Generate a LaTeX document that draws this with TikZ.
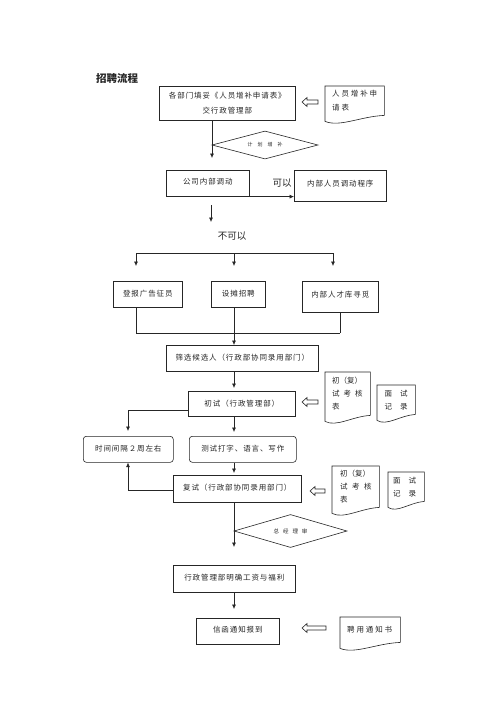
\documentclass[tikz,border=0pt]{standalone}
\usepackage{fontspec}
\newfontfamily\cjk{Noto Sans CJK SC}
\newfontfamily\cjks[LetterSpace=12]{Noto Sans CJK SC}
\newfontfamily\cjkw[LetterSpace=25]{Noto Sans CJK SC}
\usetikzlibrary{arrows.meta,calc,shapes.geometric}
\tikzset{
  ln/.style={draw=black!85, line width=0.6pt},
  arr/.style={ln, -{Latex[length=4.5pt,width=4pt]}},
  box/.style={ln, rectangle, inner sep=0pt, anchor=north west, font=\cjks\fontsize{7.5}{9}\selectfont},
  rbox/.style={box, rounded corners=3pt},
  docnode/.style={inner xsep=7pt, inner ysep=0pt, anchor=north west, align=left, font=\cjk\fontsize{7.5}{13}\selectfont},
  dia/.style={ln, diamond, inner sep=0pt},
  lbl/.style={font=\cjk\fontsize{9.5}{11}\selectfont},
  pics/harrow/.style={code={\draw[ln] (0,0) -- (5,-4.5) -- (5,-2) -- (#1,-2) -- (#1,2) -- (5,2) -- (5,4.5) -- cycle;}}
}
\newcommand\docoutline[1]{\draw[ln] (#1.north west) -- (#1.north east) -- (#1.south east)
  .. controls ($(#1.south east)!0.4!(#1.south west)+(0,1)$) and ($(#1.south east)!0.75!(#1.south west)+(0,12)$) ..
  ($(#1.south west)+(0,6)$) -- cycle;}
\begin{document}
\begin{tikzpicture}[x=1pt,y=-1pt, every node/.append style={text=black!85}]
\fill[white] (0,0) rectangle (500,707);
\useasboundingbox (0,0) rectangle (500,707);

\node[font=\cjk\bfseries\fontsize{10.5}{12}\selectfont] (title) at (117,78) {招聘流程};

% top
\node[box, minimum width=136pt, minimum height=34pt, align=center] (b1) at (159,86) {各部门填妥《人员增补申请表》\\[6pt]交行政管理部};
\node[docnode, text width=45pt, minimum height=29pt, font=\cjkw\fontsize{7.5}{14}\selectfont] (d0) at (325,86) {人员增补申\\请表};
\docoutline{d0}
\pic (ha1) at (302,102) {harrow=16};

\node[dia, minimum width=106pt, minimum height=28pt, aspect=3.8, font=\cjk\fontsize{5}{6}\selectfont] (dia1) at (265,145) {计\kern5pt 划\kern5pt 增\kern5pt 补};
\coordinate (p1) at (212,158);
\draw[arr] (b1.south -| p1) -- (p1);

\node[box, minimum width=83pt, minimum height=26pt] (b2) at (166,170) {\raisebox{3pt}{公司内部调动}};
\node[box, minimum width=92pt, minimum height=31pt] (b3) at (294,170) {\raisebox{5pt}{内部人员调动程序}};
\draw[arr] (b2.south east) -- (b2.south east -| b3.west);
\node[lbl] (lk) at (282,183) {可以};

\coordinate (p2a) at (211,205);
\coordinate (p2b) at (211,222);
\draw[arr] (p2a) -- (p2b);
\node[lbl] (lnk) at (232,236) {不可以};

% branch
\coordinate (h1l) at (136,253);
\coordinate (h1m) at (234,253);
\coordinate (h1r) at (333,253);
\draw[ln] (h1l) -- (h1r);
\draw[arr] (h1l) -- ++(0,13);
\draw[arr] (h1m) -- ++(0,13);
\draw[arr] (h1r) -- ++(0,13);

\node[box, minimum width=69pt, minimum height=26pt] (c1) at (113,281) {\raisebox{2pt}{登报广告征员}};
\node[box, minimum width=54pt, minimum height=26pt] (c2) at (211,281) {\raisebox{2pt}{设摊招聘}};
\node[box, minimum width=76pt, minimum height=31pt] (c3) at (302,281) {\raisebox{4pt}{内部人才库寻觅}};

\coordinate (h2l) at (136,333);
\coordinate (h2m) at (234,333);
\coordinate (h2r) at (340,333);
\draw[ln] (c1.south -| h2l) -- (h2l);
\draw[ln] (c2.south -| h2m) -- (h2m);
\draw[ln] (c3.south -| h2r) -- (h2r);
\draw[ln] (h2l) -- (h2r);

\node[box, minimum width=152pt, minimum height=26pt] (s1) at (166,345) {\raisebox{1.5pt}{筛选候选人（行政部协同录用部门）}};
\draw[arr] (h2m) -- (s1.north -| h2m);

% first interview
\node[box, minimum width=107pt, minimum height=25pt] (ch) at (188,391) {\raisebox{1pt}{初试（行政管理部）}};
\draw[arr] (s1.south -| h2m) -- ($(ch.north -| h2m)+(0,-3)$);
\pic (ha2) at (302,402) {harrow=16};
\node[docnode, text width=31pt, minimum height=43pt] (d1) at (325,372) {初（复）\\试\kern4pt 考\kern4pt 核\\表};
\docoutline{d1}
\node[docnode, inner xsep=7.5pt, text width=23pt, minimum height=29pt] (d2) at (377,385) {面\kern8pt 试\\记\kern8pt 录};
\docoutline{d2}

\node[rbox, minimum width=90pt, minimum height=26pt] (t1) at (83,436) {\raisebox{2pt}{时间间隔２周左右}};
\node[rbox, minimum width=107pt, minimum height=26pt] (t2) at (189,436) {\raisebox{2pt}{测试打字、语言、写作}};
\coordinate (lx) at (128,410);
\draw[arr] (ch.west |- lx) -- (lx) -- ($(t1.north -| lx)+(0,-5)$);
\draw[arr] (ch.south -| h2m) -- ($(t2.north -| h2m)+(0,-4)$);

% second interview
\node[box, minimum width=128pt, minimum height=27pt] (f1) at (173,475) {\raisebox{3pt}{复试（行政部协同录用部门）}};
\draw[arr] (t2.south -| h2m) -- ($(f1.north -| h2m)+(0,-2)$);
\coordinate (ly) at (128,490);
\draw[arr] (f1.west |- ly) -- (ly) -- (t1.south -| ly);
\pic (ha3) at (310,491) {harrow=15};
\node[docnode, inner xsep=8pt, text width=31pt, minimum height=41pt] (d3) at (332,466) {初（复）\\试\kern4.5pt 考\kern4.5pt 核\\表};
\docoutline{d3}
\node[docnode, inner xsep=5pt, text width=26pt, minimum height=29pt] (d4) at (388,472) {面\kern8pt 试\\记\kern8pt 录};
\docoutline{d4}

\node[dia, minimum width=113pt, minimum height=33pt, aspect=3.4, font=\cjk\fontsize{5.5}{6.5}\selectfont] (dia2) at (290.5,531) {总\kern4pt 经\kern4pt 理\kern4pt 审};
\coordinate (p3) at (234,547);
\draw[arr] (f1.south -| p3) -- (p3);

% final
\node[box, minimum width=122pt, minimum height=27pt] (g1) at (173,565) {\raisebox{2.5pt}{行政管理部明确工资与福利}};
\node[box, minimum width=83pt, minimum height=26pt] (g2) at (196,618) {\raisebox{3.5pt}{信函通知报到}};
\draw[arr] (g1.south -| h2m) -- ($(g2.north -| h2m)+(0,-9)$);
\pic (ha4) at (302,628) {harrow=24};
\node[docnode, text width=46pt, minimum height=25pt, font=\cjkw\fontsize{7.5}{13}\selectfont] (d5) at (340,617) {聘用通知书};
\docoutline{d5}
\end{tikzpicture}
\end{document}
